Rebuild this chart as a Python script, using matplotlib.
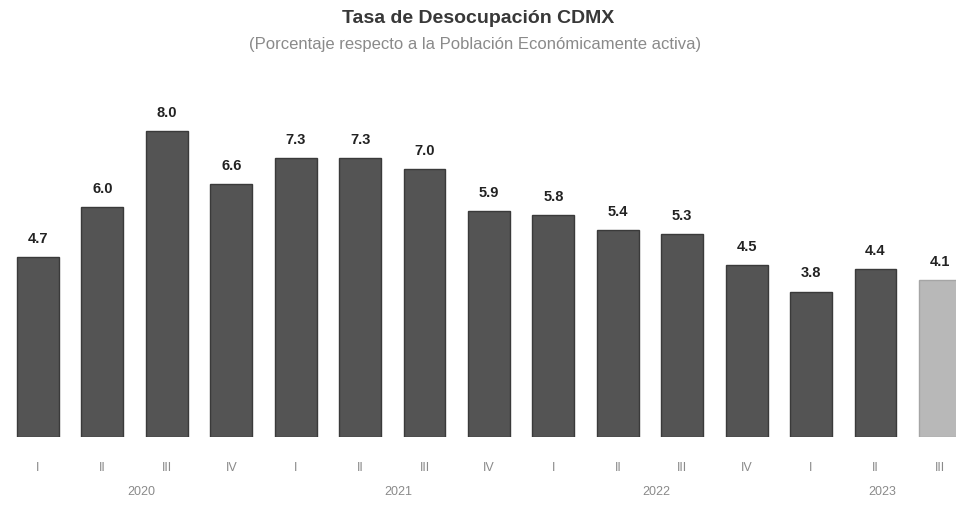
import matplotlib.pyplot as plt

# quarterly unemployment rate, CDMX
quarters = ['I', 'II', 'III', 'IV', 'I', 'II', 'III', 'IV',
            'I', 'II', 'III', 'IV', 'I', 'II', 'III']
rates = [4.7, 6.0, 8.0, 6.6, 7.3, 7.3, 7.0, 5.9, 5.8, 5.4, 5.3, 4.5, 3.8, 4.4, 4.1]
years = ['2020', '2021', '2022', '2023']
year_counts = [4, 4, 4, 3]

plt.rcParams['font.family'] = ['Liberation Sans', 'DejaVu Sans']

fig = plt.figure(figsize=(9.56, 5.08), dpi=100)
ax = fig.add_axes([0, 0.1398, 1, 0.7027])

colors = ['#545454'] * (len(rates) - 1) + ['#b8b8b8']
edges = ['#3a3a3a'] * (len(rates) - 1) + ['#a5a5a5']
x = range(len(rates))
ax.bar(x, rates, width=0.65, color=colors, edgecolor=edges, linewidth=1)

for i, v in enumerate(rates):
    ax.annotate(f'{v:.1f}', (i, v), xytext=(0, 8), textcoords='offset points',
                ha='center', va='bottom', fontsize=10.5, fontweight='bold',
                color='#222222')

ax.set_xlim(-0.59, 14.25)
ax.set_ylim(0, 9.33)
ax.set_xticks(list(x))
ax.set_xticklabels(quarters, fontsize=9, color='#8a8a8a')
ax.tick_params(axis='x', length=0, pad=18)
ax.set_yticks([])
for s in ax.spines.values():
    s.set_visible(False)

# year labels under each group of quarters
start = 0
for yr, n in zip(years, year_counts):
    center = start + (n - 1) / 2 + 0.1
    ax.text(center, -1.45, yr, ha='center', va='center', fontsize=9,
            color='#8a8a8a', clip_on=False)
    start += n

fig.text(0.5, 0.964, 'Tasa de Desocupación CDMX', ha='center', va='center',
         fontsize=14, fontweight='bold', color='#383838')
fig.text(0.497, 0.913, '(Porcentaje respecto a la Población Económicamente activa)',
         ha='center', va='center', fontsize=12, color='#8a8a8a')

fig.savefig('out.png', dpi=100)
